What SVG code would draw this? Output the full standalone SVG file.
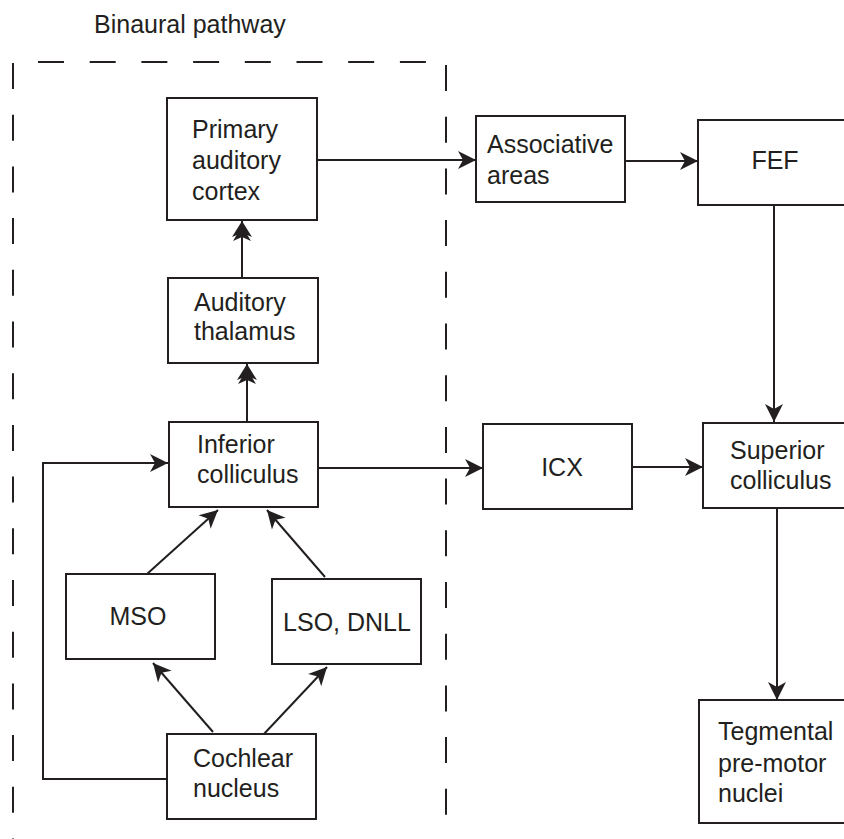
<svg xmlns="http://www.w3.org/2000/svg" width="844" height="839" viewBox="0 0 844 839">
<style>
  .box{fill:#fff;stroke:#231f20;stroke-width:2}
  .t{font-family:"Liberation Sans",Arial,sans-serif;font-size:25px;fill:#231f20}
  .c{fill:none;stroke:#231f20;stroke-width:2}
  .a{marker-end:url(#arr)}
  .d{marker-end:url(#arr2)}
  .dash{fill:none;stroke:#231f20;stroke-width:2;stroke-dasharray:26 25.7}
</style>
<defs>
  <marker id="arr" markerUnits="userSpaceOnUse" viewBox="-19 -10 20 20" refX="0" refY="0" markerWidth="20" markerHeight="20" orient="auto">
    <path d="M0,0 L-18,-9 L-13,0 L-18,9 z" fill="#231f20"/>
  </marker>
  <marker id="arr2" markerUnits="userSpaceOnUse" viewBox="-24 -11 25 22" refX="0" refY="0" markerWidth="25" markerHeight="22" orient="auto">
    <path d="M0,0 L-16,-10 L-12,0 L-16,10 z" fill="#231f20"/>
    <path d="M-5,0 L-20,-9 L-16,0 L-20,9 z" fill="#231f20"/>
  </marker>
</defs>
<rect width="844" height="839" fill="#fff"/>
<g id="binaural-pathway">
  <text class="t" x="94" y="33">Binaural pathway</text>
  <line class="dash" x1="38" y1="62" x2="430" y2="62"/>
  <line class="dash" x1="13" y1="63" x2="13" y2="839"/>
  <line class="dash" x1="446" y1="65" x2="446" y2="815"/>
</g>
<g id="connectors">
  <line class="c a" x1="317" y1="160" x2="476" y2="160"/>
  <line class="c a" x1="625" y1="161" x2="698" y2="161"/>
  <line class="c a" x1="774" y1="205" x2="774" y2="422"/>
  <line class="c a" x1="318" y1="468" x2="483" y2="468"/>
  <line class="c a" x1="632" y1="467" x2="703" y2="467"/>
  <line class="c a" x1="777" y1="508" x2="777" y2="700"/>
  <line class="c d" x1="242" y1="278" x2="242" y2="221"/>
  <line class="c d" x1="247" y1="422" x2="247" y2="364"/>
  <polyline class="c a" points="167,779 43,779 43,463 168,463"/>
  <line class="c a" x1="147" y1="574" x2="218" y2="510"/>
  <line class="c a" x1="325" y1="577" x2="267" y2="510"/>
  <line class="c a" x1="213" y1="732" x2="153" y2="663"/>
  <line class="c a" x1="263" y1="735" x2="327" y2="667"/>
</g>
<g id="primary-auditory-cortex">
  <rect class="box" x="167" y="98" width="150" height="122"/>
  <text class="t" x="192" y="138">Primary</text>
  <text class="t" x="192" y="169">auditory</text>
  <text class="t" x="192" y="200">cortex</text>
</g>
<g id="associative-areas">
  <rect class="box" x="476" y="116" width="149" height="86"/>
  <text class="t" x="487" y="153">Associative</text>
  <text class="t" x="487" y="184">areas</text>
</g>
<g id="fef">
  <rect class="box" x="698" y="120" width="200" height="85"/>
  <text class="t" x="775" y="169" text-anchor="middle">FEF</text>
</g>
<g id="auditory-thalamus">
  <rect class="box" x="168" y="278" width="150" height="85"/>
  <text class="t" x="194" y="311">Auditory</text>
  <text class="t" x="194" y="340">thalamus</text>
</g>
<g id="inferior-colliculus">
  <rect class="box" x="169" y="422" width="149" height="85"/>
  <text class="t" x="197" y="453">Inferior</text>
  <text class="t" x="197" y="483">colliculus</text>
</g>
<g id="icx">
  <rect class="box" x="483" y="424" width="149" height="85"/>
  <text class="t" x="562" y="476" text-anchor="middle">ICX</text>
</g>
<g id="superior-colliculus">
  <rect class="box" x="703" y="423" width="200" height="85"/>
  <text class="t" x="730" y="459">Superior</text>
  <text class="t" x="730" y="489">colliculus</text>
</g>
<g id="mso">
  <rect class="box" x="66" y="574" width="149" height="85"/>
  <text class="t" x="138" y="625" text-anchor="middle">MSO</text>
</g>
<g id="lso-dnll">
  <rect class="box" x="272" y="579" width="149" height="85"/>
  <text class="t" x="347" y="631" text-anchor="middle">LSO, DNLL</text>
</g>
<g id="cochlear-nucleus">
  <rect class="box" x="167" y="734" width="149" height="85"/>
  <text class="t" x="193" y="767">Cochlear</text>
  <text class="t" x="193" y="797">nucleus</text>
</g>
<g id="tegmental-pre-motor-nuclei">
  <rect class="box" x="699" y="700" width="200" height="123"/>
  <text class="t" x="718" y="740">Tegmental</text>
  <text class="t" x="718" y="772">pre-motor</text>
  <text class="t" x="718" y="802">nuclei</text>
</g>
</svg>
